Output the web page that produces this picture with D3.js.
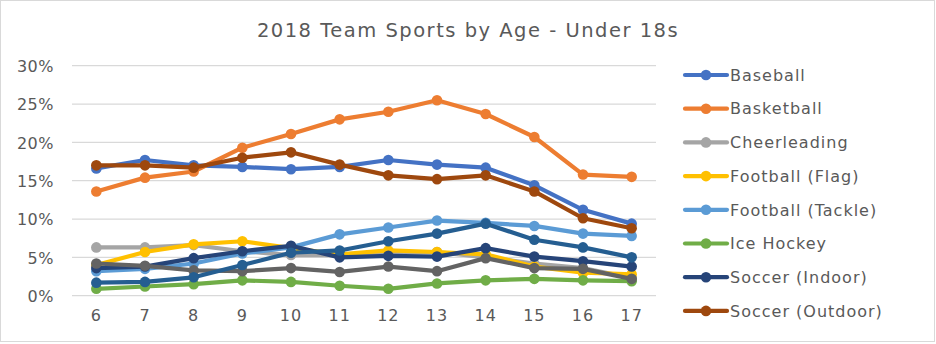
<!DOCTYPE html>
<html>
<head>
<meta charset="utf-8">
<script src="https://cdn.jsdelivr.net/npm/d3@7"></script>
<style>
  html, body { margin: 0; padding: 0; background: #fff; }
  svg { display: block; }
  text { font-family: "DejaVu Sans", Verdana, sans-serif; fill: #595959; }
</style>
</head>
<body>
<svg id="chart" width="936" height="344"></svg>
<script>
// Participation share by age (percent)
const ages = [6, 7, 8, 9, 10, 11, 12, 13, 14, 15, 16, 17];
const yTicks = [0, 5, 10, 15, 20, 25, 30];

const baseball       = [16.6, 17.7, 17.0, 16.8, 16.5, 16.8, 17.7, 17.1, 16.7, 14.4, 11.2, 9.4];
const basketball     = [13.6, 15.4, 16.2, 19.3, 21.1, 23.0, 24.0, 25.5, 23.7, 20.7, 15.8, 15.5];
const cheerleading   = [6.3, 6.3, 6.6, 5.8, 5.3, 5.3, 5.6, 5.7, 5.0, 4.2, 3.6, 2.3];
const footballFlag   = [4.0, 5.7, 6.7, 7.1, 6.2, 5.4, 5.9, 5.7, 5.4, 3.8, 3.0, 2.8];
const footballTackle = [3.2, 3.5, 4.2, 5.5, 6.3, 8.0, 8.9, 9.8, 9.5, 9.1, 8.1, 7.8];
const iceHockey      = [0.9, 1.2, 1.5, 2.0, 1.8, 1.3, 0.9, 1.6, 2.0, 2.2, 2.0, 1.9];
const soccerIndoor   = [3.6, 3.8, 4.9, 5.8, 6.5, 5.0, 5.2, 5.1, 6.2, 5.1, 4.5, 3.8];
const soccerOutdoor  = [17.0, 17.0, 16.7, 18.0, 18.7, 17.1, 15.7, 15.2, 15.7, 13.6, 10.1, 8.8];
const series9        = [4.2, 3.9, 3.3, 3.2, 3.6, 3.1, 3.8, 3.2, 4.9, 3.6, 3.5, 2.2];
const series10       = [1.7, 1.8, 2.4, 4.0, 5.6, 5.9, 7.1, 8.1, 9.4, 7.3, 6.3, 5.0];

const seriesNames = ["Baseball", "Basketball", "Cheerleading", "Football (Flag)",
  "Football (Tackle)", "Ice Hockey", "Soccer (Indoor)", "Soccer (Outdoor)",
  "Series 9", "Series 10"];
const seriesValues = [baseball, basketball, cheerleading, footballFlag, footballTackle,
  iceHockey, soccerIndoor, soccerOutdoor, series9, series10];
const colors = ["#4472C4", "#ED7D31", "#A5A5A5", "#FFC000", "#5B9BD5", "#70AD47",
  "#264478", "#9E480E", "#636363", "#255E91"];
const legendCount = 8; // the legend box only has room for the first eight entries

const svg = d3.select("#chart");
const plot = { left: 72, right: 656, top: 65.7, bottom: 295.7 };

// outer chart border
svg.append("rect")
  .attr("x", 0.5).attr("y", 0.5)
  .attr("width", 934).attr("height", 341)
  .attr("fill", "#fff").attr("stroke", "#d9d9d9").attr("stroke-width", 1);

// title
svg.append("text")
  .attr("x", 468).attr("y", 37)
  .attr("text-anchor", "middle")
  .style("font-size", "19.5px")
  .style("letter-spacing", "1.5px")
  .text("2018 Team Sports by Age - Under 18s");

const x = d3.scaleBand().domain(ages).range([plot.left, plot.right]);
const y = d3.scaleLinear().domain([0, 30]).range([plot.bottom, plot.top]);

// gridlines
svg.append("g")
  .selectAll("line")
  .data(yTicks)
  .join("line")
  .attr("x1", plot.left).attr("x2", plot.right)
  .attr("y1", d => y(d)).attr("y2", d => y(d))
  .attr("stroke", "#d9d9d9").attr("stroke-width", 1.3);

// y axis labels
const yAxis = d3.axisLeft(y).tickValues(yTicks).tickFormat(d => d + "%").tickSize(0).tickPadding(0);
const yg = svg.append("g").attr("transform", "translate(54,0)").call(yAxis);
yg.select(".domain").remove();
yg.selectAll("text")
  .style("font-family", "'DejaVu Sans', Verdana, sans-serif")
  .style("font-size", "16px")
  .style("letter-spacing", "0.5px")
  .attr("fill", "#595959")
  .attr("dy", "0.36em");

// x axis labels
const xAxis = d3.axisBottom(x).tickSize(0).tickPadding(0);
const xg = svg.append("g").attr("transform", `translate(0,${plot.bottom + 14})`).call(xAxis);
xg.select(".domain").remove();
xg.selectAll("text")
  .style("font-family", "'DejaVu Sans', Verdana, sans-serif")
  .style("font-size", "16px")
  .style("letter-spacing", "1px")
  .attr("fill", "#595959")
  .attr("dy", "0.71em");

const cx = d => x(d) + x.bandwidth() / 2;
const line = d3.line().x((d, i) => cx(ages[i])).y(d => y(d));

// series lines and markers
seriesValues.forEach((vals, s) => {
  const g = svg.append("g");
  g.append("path")
    .datum(vals)
    .attr("d", line)
    .attr("fill", "none")
    .attr("stroke", colors[s])
    .attr("stroke-width", 4.2)
    .attr("stroke-linejoin", "round")
    .attr("stroke-linecap", "round");
  g.selectAll("circle")
    .data(vals)
    .join("circle")
    .attr("cx", (d, i) => cx(ages[i]))
    .attr("cy", d => y(d))
    .attr("r", 5.3)
    .attr("fill", colors[s]);
});

// legend
const legend = svg.append("g").attr("transform", "translate(685,75)");
const rowH = 33.7;
const items = legend.selectAll("g")
  .data(seriesNames.slice(0, legendCount))
  .join("g")
  .attr("transform", (d, i) => `translate(0,${i * rowH})`);
items.append("line")
  .attr("x1", 0).attr("x2", 42)
  .attr("y1", 0).attr("y2", 0)
  .attr("stroke", (d, i) => colors[i])
  .attr("stroke-width", 4.2)
  .attr("stroke-linecap", "round");
items.append("circle")
  .attr("cx", 21).attr("cy", 0).attr("r", 5.3)
  .attr("fill", (d, i) => colors[i]);
items.append("text")
  .attr("x", 45).attr("y", 0).attr("dy", "0.36em")
  .style("font-size", "16px")
  .style("letter-spacing", "1px")
  .text(d => d);
</script>
</body>
</html>
